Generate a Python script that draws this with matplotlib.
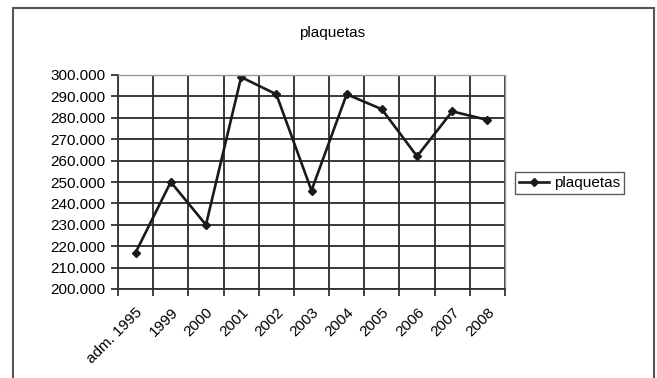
import matplotlib
matplotlib.use("Agg")
import matplotlib.pyplot as plt
from matplotlib.patches import Rectangle
from matplotlib.ticker import FuncFormatter, MultipleLocator
from matplotlib.transforms import ScaledTranslation

categories = ["adm. 1995", "1999", "2000", "2001", "2002", "2003",
              "2004", "2005", "2006", "2007", "2008"]
plaquetas = [217000, 250000, 230000, 299000, 291000, 246000,
             291000, 284000, 262000, 283000, 279000]

W, H = 657, 378
fig = plt.figure(figsize=(W / 100, H / 100), dpi=100)
plt.rcParams["font.family"] = ["Liberation Sans", "DejaVu Sans"]
FS = 11

# outer chart frame
fig.patches.append(Rectangle((13 / W, -0.05), (654 - 13) / W, 1.05 - 8 / H,
                             transform=fig.transFigure, fill=False,
                             edgecolor="#555555", linewidth=1.5))

left, right, top, bottom = 118, 505, 75, 289
ax = fig.add_axes([left / W, 1 - bottom / H, (right - left) / W, (bottom - top) / H])

n = len(categories)
x = list(range(n))
ax.plot(x, plaquetas, color="#1a1a1a", linewidth=1.9, marker="D",
        markersize=4.5, label="plaquetas")

ax.set_xlim(-0.5, n - 0.5)
ax.set_ylim(200000, 300000)
ax.yaxis.set_major_locator(MultipleLocator(10000))
ax.yaxis.set_major_formatter(FuncFormatter(lambda v, p: f"{int(v):,}".replace(",", ".")))

# grid on the category boundaries, labels centred in each category
ax.set_xticks([i - 0.5 for i in range(n + 1)])
ax.set_xticklabels([])
ax.set_xticks(x, minor=True)
ax.set_xticklabels(categories, minor=True, rotation=45, ha="right",
                   rotation_mode="anchor", fontsize=FS)
shift = ScaledTranslation(-6 / 100, -2 / 100, fig.dpi_scale_trans)
for lbl in ax.get_xticklabels(minor=True):
    lbl.set_transform(lbl.get_transform() + shift)
ax.tick_params(axis="x", which="minor", length=0, pad=12)
ax.tick_params(axis="x", which="major", length=5, width=1.3, color="#333333")
ax.tick_params(axis="y", length=5, width=1.3, color="#333333", labelsize=FS, pad=4)
ax.grid(True, which="major", color="#2a2a2a", linewidth=1.3)
ax.set_axisbelow(True)
for s in ["left", "bottom"]:
    ax.spines[s].set_color("#333333")
    ax.spines[s].set_linewidth(1.3)
for s in ["top", "right"]:
    ax.spines[s].set_color("#999999")
    ax.spines[s].set_linewidth(1.0)

fig.text(332 / W, 1 - 33 / H, "plaquetas", ha="center", va="center", fontsize=FS)

leg = fig.legend(loc="center left", bbox_to_anchor=(515 / W, 1 - 183 / H),
                 frameon=True, fancybox=False, fontsize=FS, handlelength=2.0,
                 handletextpad=0.3, borderpad=0.25, borderaxespad=0)
leg.get_frame().set_edgecolor("#333333")
leg.get_frame().set_linewidth(1.0)

fig.savefig("out.png", dpi=100)
